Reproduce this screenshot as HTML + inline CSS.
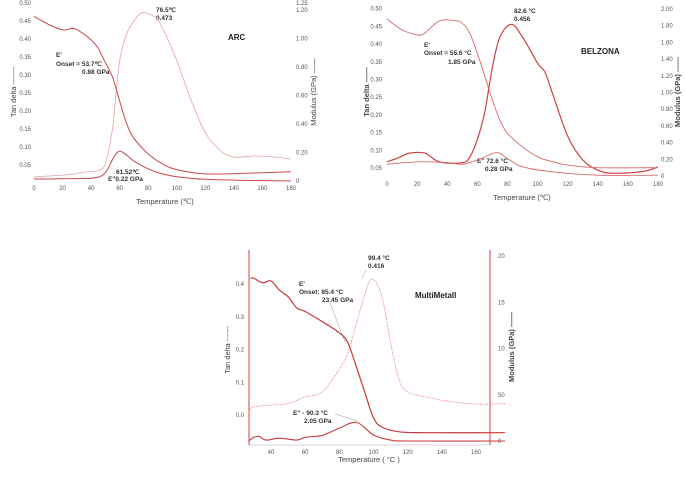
<!DOCTYPE html>
<html><head><meta charset="utf-8"><style>
html,body{margin:0;padding:0;background:#fff;}
svg{display:block;font-family:"Liberation Sans",sans-serif;}
.t{font-size:6px;fill:#555;}
.a{font-size:6.5px;font-weight:bold;fill:#333;}
.ti{font-size:8px;font-weight:bold;fill:#222;}
.ax{font-size:7.5px;fill:#444;}
</style></head><body>
<svg id="c" width="685" height="478" viewBox="0 0 685 478">
<g id="g1">
 <text class="ti" x="228" y="40">ARC</text>
 <text class="a" x="56" y="57">E'</text>
 <text class="a" x="56" y="66">Onset = 53.7℃</text>
 <text class="a" x="82" y="74">0.88 GPa</text>
 <text class="a" x="156" y="12">76.5℃</text>
 <text class="a" x="156" y="20">0.473</text>
 <text class="a" x="116" y="174">61.52℃</text>
 <text class="a" x="108" y="181">E''0.22  GPa</text>
 <text class="ax" x="165" y="204" text-anchor="middle">Temperature (℃)</text>
 <text class="ax" transform="translate(16,92) rotate(-90)" text-anchor="middle">Tan delta -------</text>
 <text class="ax" transform="translate(316,92) rotate(-90)" text-anchor="middle">Modulus (GPa) ——</text>
</g>
<g id="g2">
 <text class="ti" x="581" y="54">BELZONA</text>
 <text class="a" x="424" y="47">E'</text>
 <text class="a" x="424" y="55">Onset = 55.6 °C</text>
 <text class="a" x="448" y="64">1.85 GPa</text>
 <text class="a" x="514" y="13">82.6 °C</text>
 <text class="a" x="514" y="21">0.456</text>
 <text class="a" x="477" y="163">E'' 72.6 °C</text>
 <text class="a" x="485" y="171">0.28 GPa</text>
 <text class="ax" x="522" y="200" text-anchor="middle">Temperature (℃)</text>
 <text class="ax" transform="translate(369,92) rotate(-90)" text-anchor="middle" style="font-weight:bold">Tan delta ——</text>
 <text class="ax" transform="translate(680,92) rotate(-90)" text-anchor="middle" style="font-weight:bold">Modulus (GPa) ------</text>
</g>
<g id="g3">
 <line x1="249" y1="250" x2="249" y2="445" stroke="#e06060" stroke-width="1.2"/>
 <line x1="490" y1="250" x2="490" y2="445" stroke="#e06060" stroke-width="1.2"/>
 <line x1="249" y1="445" x2="490" y2="445" stroke="#aaa" stroke-width="0.6"/>
 <text class="ti" x="415" y="298">MultiMetall</text>
 <text class="a" x="299" y="286">E'</text>
 <text class="a" x="299" y="294">Onset: 85.4 °C</text>
 <text class="a" x="322" y="302">23.45 GPa</text>
 <text class="a" x="368" y="260">99.4 °C</text>
 <text class="a" x="368" y="268">0.416</text>
 <text class="a" x="293" y="415">E'' - 90.3 °C</text>
 <text class="a" x="304" y="423">2.05 GPa</text>
 <line x1="330" y1="303" x2="345" y2="342" stroke="#999" stroke-width="0.5"/>
 <line x1="366" y1="270" x2="362" y2="279" stroke="#999" stroke-width="0.5"/>
 <line x1="335" y1="414" x2="358" y2="421" stroke="#999" stroke-width="0.5"/>
 <text class="ax" x="369" y="462" text-anchor="middle">Temperature ( °C )</text>
 <text class="ax" transform="translate(230,350) rotate(-90)" text-anchor="middle">Tan delta ------</text>
 <text class="ax" transform="translate(514,347) rotate(-90)" text-anchor="middle" style="font-weight:bold">Modulus (GPa) ——</text>
</g>
</svg>
<script>
// ARC data
const arcTanT=[0,20,28,35,45,50,55,57,60,65,70,76,85,90,100,110,120,130,140,155,170,180];
const arcTanV=[0.017,0.022,0.025,0.03,0.035,0.055,0.15,0.23,0.34,0.415,0.45,0.473,0.46,0.43,0.34,0.23,0.14,0.092,0.072,0.075,0.072,0.066];
const arcET=[0,10,20,28,35,40,45,50,55,60,65,70,80,90,100,120,150,180];
const arcEV=[1.155,1.1,1.06,1.07,1.03,0.99,0.93,0.83,0.73,0.56,0.4,0.3,0.19,0.12,0.08,0.05,0.055,0.065];
const arcE2T=[0,20,40,48,52,56,60,65,70,80,90,100,120,150,180];
const arcE2V=[0.014,0.016,0.02,0.04,0.09,0.17,0.21,0.18,0.14,0.085,0.05,0.03,0.012,0.004,0.0];
const arcXTicks=[0,20,40,60,80,100,120,140,160,180];
const arcLTicks=[0.05,0.10,0.15,0.20,0.25,0.30,0.35,0.40,0.45,0.50];
const arcRTicks=[0,0.2,0.4,0.6,0.8,1.0,1.2,1.25];
// BELZONA data
const belTanT=[0,8,15,25,35,50,55,60,65,70,75,82.6,90,100,105,110,120,130,140,150,170,180];
const belTanV=[0.067,0.08,0.092,0.092,0.067,0.065,0.081,0.13,0.21,0.335,0.42,0.456,0.42,0.346,0.32,0.26,0.14,0.073,0.044,0.035,0.04,0.053];
const belET=[0,10,20,25,35,45,50,55,60,65,70,75,80,90,100,110,120,140,180];
const belEV=[1.88,1.75,1.69,1.71,1.86,1.86,1.83,1.71,1.47,1.19,0.91,0.67,0.51,0.35,0.23,0.17,0.13,0.1,0.1];
const belE2T=[0,20,40,50,60,72.6,80,90,110,140,180];
const belE2V=[0.14,0.17,0.16,0.14,0.19,0.28,0.21,0.11,0.05,0.01,0.01];
const belXTicks=[0,20,40,60,80,100,120,140,160,180];
const belLTicks=[0.05,0.10,0.15,0.20,0.25,0.30,0.35,0.40,0.45,0.50];
const belRTicks=[0,0.2,0.4,0.6,0.8,1.0,1.2,1.4,1.6,1.8,2.0];
// MultiMetall data
const mmET=[28,30,35,40,45,50,55,60,70,80,85,90,95,100,105,115,130,177];
const mmEV=[17.6,17.6,17.1,17.3,16.3,15.6,14.4,14.0,12.9,11.7,10.6,8.0,5.2,2.5,1.5,1.0,0.9,0.9];
const mmTanT=[27,30,40,50,60,70,80,85,90,95,99.4,105,110,115,120,130,140,155,165,177];
const mmTanV=[0.01,0.025,0.03,0.035,0.055,0.07,0.14,0.19,0.28,0.37,0.416,0.36,0.22,0.107,0.07,0.056,0.045,0.035,0.033,0.035];
const mmE2T=[27,30,33,37,45,55,60,70,80,90.3,100,110,120,177];
const mmE2V=[0,0.4,0.5,0.1,0.3,0.1,0.4,0.6,1.4,2.0,0.65,0.1,0,0];
const mmXTicks=[40,60,80,100,120,140,160];
const mmLTicks=[0.0,0.1,0.2,0.3,0.4];
const mmRTicks=[0,5,10,15,20];
const mmRLabels=["0","50","10","15","20"];

const NS="http://www.w3.org/2000/svg";
function lin(d0,d1,r0,r1){return v=>r0+(v-d0)*(r1-r0)/(d1-d0);}
function path(g,xs,ys,fx,fy,color,w,dash,name){
  const p=document.createElementNS(NS,'path');
  const P=xs.map((x,i)=>[fx(x),fy(ys[i])]);
  let d='M'+P[0][0].toFixed(1)+','+P[0][1].toFixed(1);
  for(let i=0;i<P.length-1;i++){
    const p0=P[Math.max(0,i-1)],p1=P[i],p2=P[i+1],p3=P[Math.min(P.length-1,i+2)];
    const c1=[p1[0]+(p2[0]-p0[0])/6,p1[1]+(p2[1]-p0[1])/6];
    const c2=[p2[0]-(p3[0]-p1[0])/6,p2[1]-(p3[1]-p1[1])/6];
    d+='C'+c1[0].toFixed(1)+','+c1[1].toFixed(1)+' '+c2[0].toFixed(1)+','+c2[1].toFixed(1)+' '+p2[0].toFixed(1)+','+p2[1].toFixed(1);
  }
  p.setAttribute('d',d);p.setAttribute('fill','none');p.setAttribute('stroke',color);
  p.setAttribute('stroke-width',w);p.setAttribute('stroke-linejoin','round');
  if(dash)p.setAttribute('stroke-dasharray',dash);
  
  
  g.appendChild(p);
}
function txt(g,x,y,s,anchor,name){
  const t=document.createElementNS(NS,'text');
  t.setAttribute('x',x);t.setAttribute('y',y);t.setAttribute('class','t');
  if(anchor)t.setAttribute('text-anchor',anchor);
  t.textContent=s;
  
  
  g.appendChild(t);
}
// ARC
(function(){
 const g=document.getElementById('g1');
 const fx=lin(0,180,34,291), fl=lin(0,0.05,183,165), fr=lin(0,1,181,38.5);
 arcXTicks.forEach(v=>txt(g,fx(v),190,String(v),'middle','arc-x-tick'));
 arcLTicks.forEach(v=>txt(g,31,fl(v)+2,v.toFixed(2),'end','arc-left-tick'));
 arcRTicks.forEach(v=>txt(g,296,fr(v)+2,v===0?'0':v.toFixed(2),'start','arc-right-tick'));
 path(g,arcTanT,arcTanV,fx,fl,'#e8a0a0',0.8,null,'arc-tan-delta-line');
 path(g,arcET,arcEV,fx,fr,'#c94848',1,null,'arc-storage-modulus-line');
 path(g,arcE2T,arcE2V,fx,fr,'#c94848',1,null,'arc-loss-modulus-line');
})();
// BELZONA
(function(){
 const g=document.getElementById('g2');
 const fx=lin(0,180,387,658), fl=lin(0,0.05,185.7,168), fr=lin(0,2,176,9);
 belXTicks.forEach(v=>txt(g,fx(v),186,String(v),'middle','belzona-x-tick'));
 belLTicks.forEach(v=>txt(g,382,fl(v)+2,v.toFixed(2),'end','belzona-left-tick'));
 belRTicks.forEach(v=>txt(g,661,fr(v)+2,v===0?'0':v.toFixed(2),'start','belzona-right-tick'));
 path(g,belTanT,belTanV,fx,fl,'#d04040',1.2,null,'belzona-tan-delta-line');
 path(g,belET,belEV,fx,fr,'#d86a6a',0.9,null,'belzona-storage-modulus-line');
 path(g,belE2T,belE2V,fx,fr,'#d86a6a',0.9,null,'belzona-loss-modulus-line');
})();
// MultiMetall
(function(){
 const g=document.getElementById('g3');
 const fx=lin(40,160,271,476), fl=lin(0,0.4,415,284), fr=lin(0,20,441,256);
 mmXTicks.forEach(v=>txt(g,fx(v),454,String(v),'middle','mm-x-tick'));
 mmLTicks.forEach(v=>txt(g,244,fl(v)+2,v.toFixed(1),'end','mm-left-tick'));
 mmRTicks.forEach((v,i)=>txt(g,498,fr(v)+2,mmRLabels[i],'start','mm-right-tick'));
 path(g,mmTanT,mmTanV,fx,fl,'#e07070',0.8,'1.2,1.2','mm-tan-delta-line');
 path(g,mmET,mmEV,fx,fr,'#c83838',1.2,null,'mm-storage-modulus-line');
 path(g,mmE2T,mmE2V,fx,fr,'#c83838',1.1,null,'mm-loss-modulus-line');
})();
</script>
</body></html>
